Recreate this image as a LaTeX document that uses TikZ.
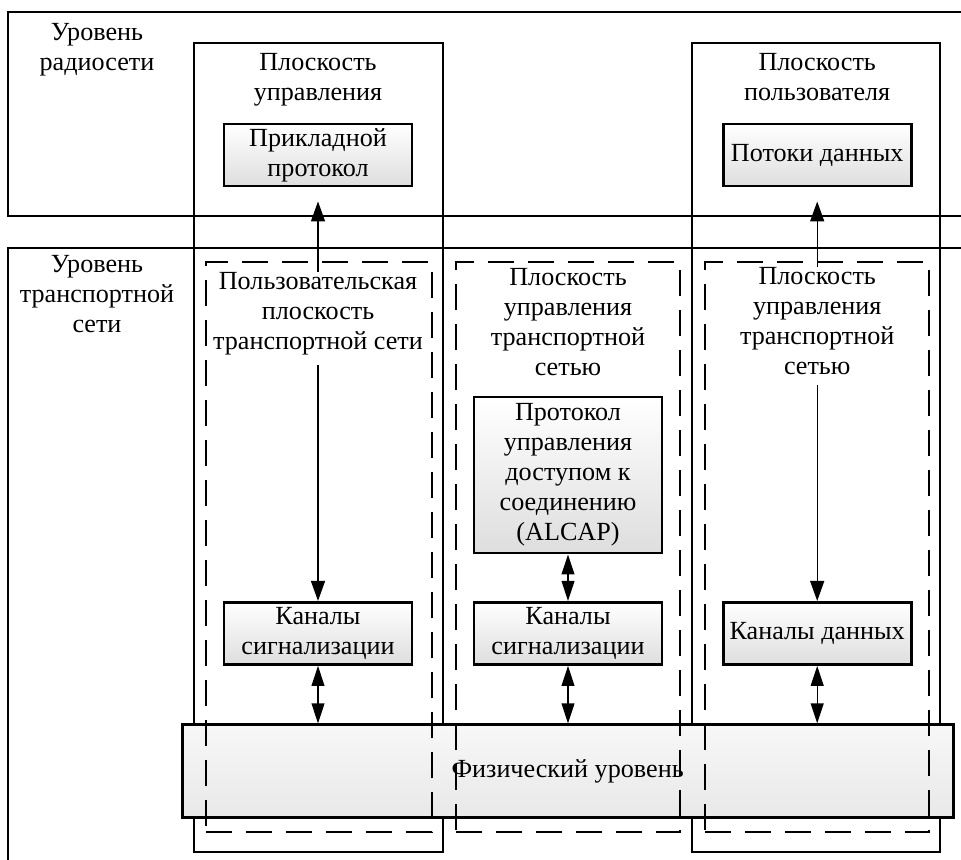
\documentclass[tikz,border=0pt]{standalone}
\usepackage{fontspec}
\setmainfont{Liberation Serif}
\usetikzlibrary{arrows.meta,positioning}
\newcommand{\planefont}{\fontsize{18.6}{21.3}\selectfont}
\tikzset{
  level/.style={draw,line width=2.1pt},
  plane/.style={draw,line width=2.1pt},
  subplane/.style={draw,line width=2.1pt,dash pattern=on 6.5mm off 3.5mm},
  block/.style={draw,line width=2.1pt,top color=white,bottom color=black!13,align=center,font=\planefont,minimum width=4.7cm,minimum height=1.55cm,inner sep=1pt},
  physbox/.style={draw,line width=2.1pt,top color=black!3,bottom color=black!9,font=\planefont},
  head/.style={align=center,font=\planefont,inner sep=0pt},
  link/.style={-{Triangle[length=5mm,width=3.5mm]},line width=1pt},
  dlink/.style={{Triangle[length=5mm,width=3.2mm]}-{Triangle[length=5mm,width=3.2mm]},line width=1pt}
}

\begin{document}
\begin{tikzpicture}[x=1cm,y=1cm]
  \useasboundingbox (0,0) rectangle (24.025,21.475);
  \clip (0,0) rectangle (24.025,21.475);
  % levels
  \node[level,minimum width=24.8cm,minimum height=5.1cm] (radio) at (12.6,18.625) {};
  \node[level,minimum width=24.8cm,minimum height=16.275cm] (trans) at (12.6,7.1375) {};
  \node[head,anchor=north] (radioLbl) at (2.425,20.9) {Уровень\\радиосети};
  \node[head,anchor=north] (transLbl) at (2.425,15.1) {Уровень\\транспортной\\сети};
  % planes
  \node[plane,minimum width=6.225cm,minimum height=20.225cm] (ctrl) at (7.9625,10.2875) {};
  \node[plane,minimum width=6.2cm,minimum height=20.225cm] (user) at (20.4,10.2875) {};
  \node[physbox,minimum width=19.275cm,minimum height=2.325cm] (phys) at (14.19,2.19) {Физический уровень};
  \node[subplane,minimum width=5.65cm,minimum height=14.25cm] (tuser) at (7.975,7.8) {};
  \node[subplane,minimum width=5.6cm,minimum height=14.25cm] (tctrlA) at (14.2,7.8) {};
  \node[subplane,minimum width=5.6cm,minimum height=14.25cm] (tctrlB) at (20.425,7.8) {};
  \node[head,anchor=north] (ctrlHead) at (7.95,20.15) {Плоскость\\управления};
  \node[head,anchor=north] (userHead) at (20.43,20.15) {Плоскость\\пользователя};
  \node[head,anchor=north] (tuserHead) at (7.95,14.675) {Пользовательская\\плоскость\\транспортной сети};
  \node[head,anchor=north] (tctrlHeadA) at (14.2,14.775) {Плоскость\\управления\\транспортной\\сетью};
  \node[head,anchor=north] (tctrlHeadB) at (20.43,14.8) {Плоскость\\управления\\транспортной\\сетью};
  % blocks
  \node[block] (app) at (7.95,17.6) {Прикладной\\протокол};
  \node[block] (flows) at (20.43,17.6) {Потоки данных};
  \node[block,minimum height=3.9cm] (alcap) at (14.2,9.6) {Протокол\\управления\\доступом к\\соединению\\(ALCAP)};
  \node[block] (sigL) at (7.95,5.64) {Каналы\\сигнализации};
  \node[block] (sigM) at (14.2,5.64) {Каналы\\сигнализации};
  \node[block] (dataCh) at (20.43,5.64) {Каналы данных};
  % links
  \draw[link,shorten >=0.35cm] (tuserHead.north) -- (app.south);
  \draw[link,shorten <=0.25cm] (tuserHead.south) -- (sigL.north);
  \draw[link,shorten >=0.35cm] (tctrlHeadB.north) -- (flows.south);
  \draw[link,shorten <=0.25cm] (tctrlHeadB.south) -- (dataCh.north);
  \draw[dlink] (alcap.south) -- (sigM.north);
  \draw[dlink] (sigL.south) -- (sigL.south |- phys.north);
  \draw[dlink] (sigM.south) -- (sigM.south |- phys.north);
  \draw[dlink] (dataCh.south) -- (dataCh.south |- phys.north);
\end{tikzpicture}
\end{document}
